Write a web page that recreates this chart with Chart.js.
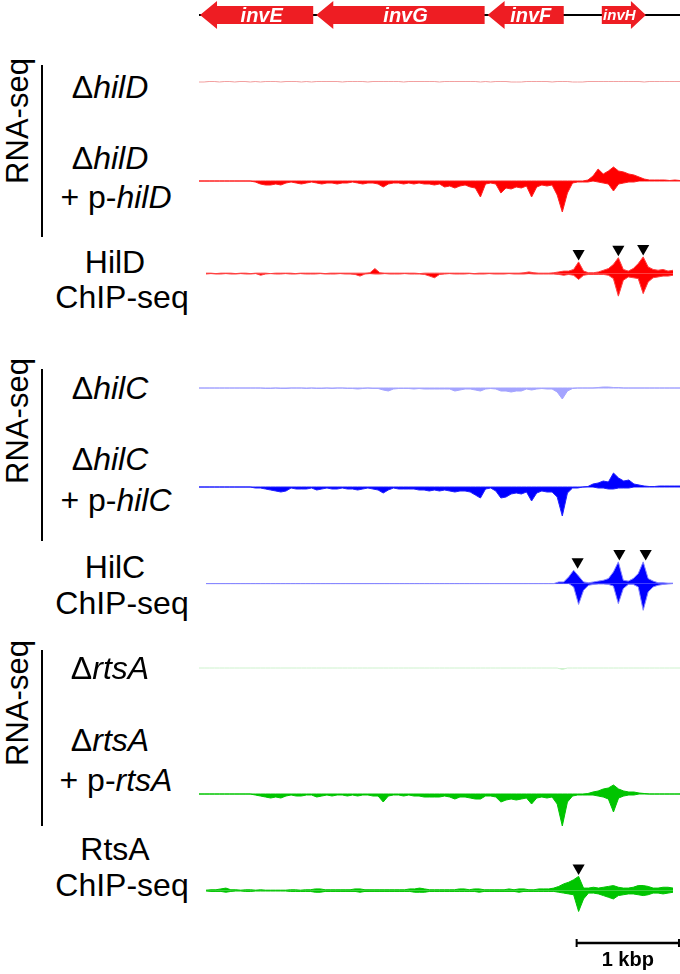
<!DOCTYPE html>
<html><head><meta charset="utf-8">
<script src="https://cdn.jsdelivr.net/npm/chart.js@4.4.1/dist/chart.umd.min.js"></script>
<style>
html,body{margin:0;padding:0;background:#fff;}
#fig{position:relative;width:680px;height:974px;overflow:hidden;font-family:'Liberation Sans',Arial,Helvetica,sans-serif;color:#000;}
.lab{position:absolute;transform:translate(-50%,-50%);font-size:32px;white-space:pre;line-height:1;}
.rot{position:absolute;transform:translate(-50%,-50%) rotate(-90deg);font-size:31px;white-space:nowrap;line-height:1;}
.vline{position:absolute;width:2px;background:#000;}
canvas{position:absolute;}
</style></head><body><div id="fig"></div>
<script>
// ---- genome positions (bp) ----
const positions = [0,50,100,150,200,250,300,350,400,450,500,550,600,650,700,750,800,850,900,950,
1000,1050,1100,1150,1200,1250,1300,1350,1400,1450,1500,1550,1600,1650,1700,1750,1800,1850,1900,1950,
2000,2050,2100,2150,2200,2250,2300,2350,2400,2450,2500,2550,2600,2650,2700,2750,2800,2850,2900,2950,
3000,3050,3100,3150,3200,3250,3300,3350,3400,3450,3500,3550,3600,3650,3700,3750,3800,3850,3900,3950,
4000,4050,4100,4150,4200,4250,4300,4350,4400,4450,4500,4550,4600,4650,4700];

// ---- genes ----
const geneNames  = ['invE','invG','invF','invH'];
const geneStarts = [10,1146,2820,3936];
const geneEnds   = [1116,2791,3564,4367];
const geneStrands= [-1,-1,-1,1];

// ---- HilD panel ----
const hilDDelta = [0,0,0.5,0.5,0,0.5,0.5,0,0.5,0.5, 0,0.5,0,0.5,0.5,0.5,0,0.5,0.5,0.5,
0,0.5,0,0.5,0.5,0.5,0.5,0.5,0,0.5, 0.5,0.5,0.5,0,0.5,0.5,0.5,0.5,0.5,0.5,
0,0.5,0.5,0.5,0.5,0.5,0.5,0,0.5,0.5, 0.5,0.5,0.5,0.5,0.5,0,0.5,0,0.5,0.5,
0.5,0,0,0,0.5,0.5,0.5,0.5,0.5,0, 0.5,0.5,0.5,0,0,0,0.5,0.5,0.5,0.5,
0.5,0.5,0.5,0.5,0.5,0.5,0.5,0,0.5,0.5, 0.5,0.5,0.5,0.5,0.5];
const hilDCompPos = [0,0,0,0,0,0,0,0,0,0, 0,0,0,0,0,0,0,0,0,0, 0,0,0,0,0,0,0,0,0,0,
0,0,0,0,0,0,0,0,0,0, 0,0,0,0,0,0,0,0,0,0, 0,0,0,0,0,0,0,0,0,0, 0,0,0,0,0,0,0,0,0,0,
0,0,0,0,0,0,1,5,12,7, 10,14,10,9,7,6,4,2,1,1, 1,1,0.5,1,0.5];
const hilDCompNeg = [0,0,0,0,0,0,0,0,0,0, 0,-1,-3,-4,-4,-3,-4,-2,-1,-2,
-3,-2,-1,-2,-3,-2,-2,-3,-2,-2, -1,-2,-3,-2,-2,-3,-6,-3,-2,-2,
-3,-2,-3,-2,-3,-3,-4,-3,-6,-5, -7,-5,-4,-6,-7,-16,-3,-2,-3,-12,
-7,-8,-6,-7,-5,-16,-6,-4,-5,-4, -14,-31,-12,-2,-1,-1,-1,0,-1,-2,
-3,-10,-3,-2,-1,-1,0,0,0,0, 0,0,0,0,0];
const hilDChipPos = [0.5,0.5,0,0.5,0.5,0.5,0,0.5,0.5,0, 0.5,0.5,0.5,0,0.5,0.5,0.5,0.5,0,0.5,
0.5,0.5,0.5,0.5,0,0.5,0.5,0.5,0.5,0.5, 0.5,0.5,0.5,1,6,1,0.5,0.5,0.5,0.5,
0.5,0.5,0.5,0,0.5,0.5,0.5,0.5,0.5,0.5, 0.5,0.5,0.5,0.5,0,0.5,0.5,0.5,0.5,0.5,
0.5,0.5,0.5,0.5,1,2,1,0.5,0.5,0.5, 1,2,3,3,5,14,3,1,1,2,
4,6,11,19,5,3,6,12,20,8, 5,4,5,3,4];
const hilDChipNeg = [-0.5,0,-0.5,-0.5,0,-0.5,-0.5,0,-0.5,-0.5, 0,-2,-0.5,0,-0.5,-0.5,0,-0.5,-0.5,0,
-0.5,-0.5,-0.5,0,-0.5,-0.5,-0.5,0,-0.5,-0.5, -1,-3,-0.5,0,-0.5,-0.5,0,-0.5,-0.5,-0.5,
0,-0.5,-0.5,-0.5,-1,-3,-5,-1,-0.5,0, -0.5,-0.5,-0.5,0,-0.5,-0.5,-0.5,0,-0.5,-0.5,
-0.5,0,-0.5,-0.5,-0.5,0,-0.5,-0.5,-0.5,-0.5, -0.5,-1,-2,-1,-2,-7,-2,-1,-1,-1,
-1,-2,-6,-27,-8,-4,-5,-6,-24,-10, -5,-4,-3,-3,-2];
const hilDSites = [3750,4150,4400];

// ---- HilC panel ----
const hilCDeltaPos = [0,0,0,0,0,0,0,0,0,0, 0,0,0,0,0,0,0,0,0,0, 0,0,0,0,0,0,0,0,0,0,
0,0,0,0,0,0,0,0,0,0, 0,0,0,0,0,0,0,0,0,0, 0,0,0,0,0,0,0,0,0,0, 0,0,0,0,0,0,0,0,0,0,
0,0,0,0,0,0,0,0,0.5,1, 1,0.5,0.5,0,0,0,0,0,0,0, 0,0,0,0,0];
const hilCDeltaNeg = [0,0,0,0,0,0,0,0,0,0, 0,0,0,-0.5,-0.5,0,-0.5,-0.5,0,0,
0,-0.5,0,-0.5,-0.5,0,-0.5,0,0,-0.5, -0.5,-1,-0.5,0,-0.5,-0.5,-2,-3,-1,-0.5,
-0.5,-0.5,-1,-0.5,-1,-1,-1,-1,-1,-1, -3,-2,-1,-1,-2,-3,-1,-0.5,-1,-3,
-3,-4,-3,-3,-1,-2,-1,-0.5,-1,-1, -4,-11,-3,-0.5,0,0,0,0,0,0,
0,0,0,0,0,0,0,0,0,0, 0,0,0,0,0];
const hilCCompPos = [0,0,0,0,0,0,0,0,0,0, 0,0,0,0,0,0,0,0,0,0, 0,0,0,0,0,0,0,0,0,0,
0,0,0,0,0,0,0,0,0,0, 0,0,0,0,0,0,0,0,0,0, 0,0,0,0,0,0,0,0,0,0, 0,0,0,0,0,0,0,0,0,0,
0,0,0,0,0,0,0.5,3,4,6, 5,14,9,6,7,3,2,1,0.5,0.5, 1,1,1,1,1];
const hilCCompNeg = [0,0,0,0,0,0,0,0,0,0, 0,-1,-1,-2,-3,-4,-5,-4,-1,-2,
-2,-2,-1,-3,-2,-1,-2,-2,-1,-2, -2,-3,-2,-1,-2,-3,-6,-3,-1,-2,
-2,-2,-2,-3,-3,-4,-3,-4,-3,-4, -5,-4,-4,-5,-8,-11,-2,-1,-4,-11,
-10,-7,-6,-7,-5,-14,-6,-4,-5,-5, -10,-29,-6,-1,-1,0,0,0,-1,-1,
-2,-2,-1,-1,-1,0,0,0,0,0, 0,0,0,0,0];
const hilCChipPos = [0,0,0,0,0,0,0,0,0,0, 0,0,0,0,0,0,0,0,0,0, 0,0,0,0,0,0,0,0,0,0,
0,0,0,0,0,0,0,0,0,0, 0,0,0,0,0,0,0,0,0,0, 0,0,0,0,0,0,0,0,0,0, 0,0,0,0,0,0,0,0,0,0,
0,2,2,8,16,9,2,1,2,3, 4,6,14,26,4,3,6,12,26,6, 3,1,1,0.5,0.5];
const hilCChipNeg = [0,0,0,0,0,0,0,0,0,0, 0,0,0,0,0,0,0,0,0,0, 0,0,0,0,0,0,0,0,0,0,
0,0,0,0,0,0,0,0,0,0, 0,0,0,0,0,0,0,0,0,0, 0,0,0,0,0,0,0,0,0,0, 0,0,0,0,0,0,0,0,0,0,
0,0,0,0,-4,-25,-8,-2,-1,-0.5, -0.5,-1,-3,-24,-6,-1,-1,-4,-32,-10, -4,-2,-1,-0.5,0];
const hilCSites = [3740,4160,4425];

// ---- RtsA panel ----
const rtsADeltaNeg = [0,0,0,0,0,0,0,0,0,0, 0,0,0,0,0,0,0,0,0,0, 0,0,0,0,0,0,0,0,0,0,
0,0,0,0,0,0,0,0,0,0, 0,0,0,0,0,0,0,0,0,0, 0,0,0,0,0,0,0,0,0,0, 0,0,0,0,0,0,0,0,0,0,
0,-1.5,0,0,0,0,0,0,0,0, 0,0,0,0,0,0,0,0,0,0, 0,0,0,0,0];
const rtsACompPos = [0,0,0,0,0,0,0,0,0,0, 0,0,0,0,0,0,0,0,0,0, 0,0,0,0,0,0,0,0,0,0,
0,0,0,0,0,0,0,0,0,0, 0,0,0,0,0,0,0,0,0,0, 0,0,0,0,0,0,0,0,0,0, 0,0,0,0,0,0,0,0,0,0,
0,0,0,0,0,0,0.5,2,3,5, 6,9,5,3,2,2,1,0.5,0,0, 0,0,0,0,0];
const rtsACompNeg = [0,0,0,0,0,0,0,0,0,0, 0,-1,-2,-3,-4,-3,-4,-2,-1,-2,
-2,-1,-1,-3,-2,-1,-2,-1,-1,-2, -1,-2,-1,-1,-2,-2,-8,-2,-1,-1,
-2,-1,-2,-2,-3,-3,-3,-3,-2,-3, -5,-3,-3,-4,-5,-5,-2,-2,-3,-8,
-6,-5,-6,-5,-4,-10,-4,-3,-4,-3, -10,-32,-8,-2,-1,-1,-1,-1,-2,-3,
-5,-18,-4,-2,-1,-1,0,0,0,0, 0,0,0,0,0];
const rtsAChipPos = [0.5,1,1,2,3,1,1,0.5,1,1, 0.5,1,0.5,0.5,0.5,0.5,0.5,1,1,0.5,
1,1,2,2,1,1,1,1,1,1, 2,2,1,1,1,1,1,1,1,1, 1,2,2,3,2,1,1,1,1,1,
1,2,2,1,2,2,1,1,1,1, 1,2,1,2,2,1,1,2,2,2, 3,5,8,10,13,17,3,3,4,3,
4,5,6,4,3,3,4,6,6,5, 3,3,4,4,3];
const rtsAChipNeg = [-0.5,-1,-1,-1,-2,-1,-0.5,-0.5,-1,-1, -0.5,-0.5,-0.5,-0.5,-0.5,-0.5,-0.5,-1,-1,-1,
-1,-1,-2,-2,-1,-1,-1,-1,-1,-1, -1,-2,-1,-1,-1,-1,-1,-1,-1,-1,
-1,-1,-2,-2,-2,-1,-1,-1,-1,-1, -1,-1,-1,-1,-1,-2,-1,-1,-1,-1,
-1,-1,-1,-2,-1,-1,-1,-1,-1,-1, -1,-2,-3,-4,-5,-25,-10,-3,-3,-4,
-6,-8,-10,-6,-5,-4,-4,-5,-6,-5, -3,-3,-4,-3,-2];
const rtsASites = [3750];

// ---- scale bar ----
const scaleBarStart = 3690, scaleBarEnd = 4690, scaleBarLabel = '1 kbp';

// ================= drawing =================
const fig = document.getElementById('fig');
const X_MIN = 0, X_MAX = 4700, LEFT = 199, WIDTH = 481;
const UP = 45, DOWN = 40;

function makeCanvas(top, height){
  const c = document.createElement('canvas');
  c.width = WIDTH; c.height = height;
  c.style.left = LEFT + 'px'; c.style.top = top + 'px';
  c.style.width = WIDTH + 'px'; c.style.height = height + 'px';
  fig.appendChild(c);
  return c;
}
function baseOptions(){
  return {
    responsive:false, animation:false, devicePixelRatio:1, events:[],
    layout:{padding:0},
    plugins:{legend:{display:false}, tooltip:{enabled:false}},
    scales:{
      x:{type:'linear', min:X_MIN, max:X_MAX, display:false},
      y:{min:-DOWN, max:UP, display:false}
    }
  };
}
function series(vals, color, lineColor){
  return {type:'line', data: positions.map((x,i)=>({x, y: vals[i]})), fill:'origin',
    backgroundColor: color, borderColor: lineColor || color, borderWidth:1,
    pointRadius:0, tension:0};
}
function peakNear(vals, site){
  let m = 0;
  positions.forEach((x,i)=>{ if (Math.abs(x - site) <= 75) m = Math.max(m, vals[i]); });
  return m;
}
function track(baseline, pos, neg, color, lineColor, sites){
  const c = makeCanvas(baseline - UP, UP + DOWN);
  const datasets = [];
  if (pos) datasets.push(series(pos, color, lineColor));
  if (neg) datasets.push(series(neg, color, lineColor));
  if (sites) datasets.push({type:'scatter', data: sites.map(s=>({x:s, y: peakNear(pos, s) + 10})),
    pointStyle:'triangle', pointRotation:180, pointRadius:7, pointBackgroundColor:'#000',
    pointBorderColor:'#000', pointBorderWidth:0, showLine:false});
  new Chart(c, {type:'line', data:{datasets}, options: baseOptions()});
}

// gene map
const genePlugin = {
  id:'genes',
  afterDraw(chart){
    const ctx = chart.ctx, xs = chart.scales.x, cy = 15;
    ctx.save();
    ctx.strokeStyle = '#000'; ctx.lineWidth = 2;
    ctx.beginPath(); ctx.moveTo(xs.getPixelForValue(X_MIN), cy); ctx.lineTo(xs.getPixelForValue(X_MAX), cy); ctx.stroke();
    geneNames.forEach((name, i)=>{
      const a = xs.getPixelForValue(geneStarts[i]), b = xs.getPixelForValue(geneEnds[i]);
      const small = (b - a) < 60;
      const head = small ? 15 : 17, bh = 9, hh = 14;
      ctx.fillStyle = '#ee1d23';
      ctx.beginPath();
      if (geneStrands[i] < 0){
        ctx.moveTo(a, cy); ctx.lineTo(a+head, cy-hh); ctx.lineTo(a+head, cy-bh); ctx.lineTo(b, cy-bh);
        ctx.lineTo(b, cy+bh); ctx.lineTo(a+head, cy+bh); ctx.lineTo(a+head, cy+hh);
      } else {
        ctx.moveTo(b, cy); ctx.lineTo(b-head, cy-hh); ctx.lineTo(b-head, cy-bh); ctx.lineTo(a, cy-bh);
        ctx.lineTo(a, cy+bh); ctx.lineTo(b-head, cy+bh); ctx.lineTo(b-head, cy+hh);
      }
      ctx.closePath(); ctx.fill();
      ctx.fillStyle = '#fff';
      ctx.font = 'italic bold ' + (small ? 15 : 20) + 'px "Liberation Sans", Arial, sans-serif';
      ctx.textAlign = 'center'; ctx.textBaseline = 'middle';
      const tx = (a + b)/2 - geneStrands[i]*head*0.3;
      ctx.fillText(name, tx, cy + 1);
    });
    ctx.restore();
  }
};
(function(){
  const c = makeCanvas(0, 32);
  const o = baseOptions(); o.scales.y = {min:0, max:1, display:false};
  new Chart(c, {type:'line', data:{datasets:[]}, options:o, plugins:[genePlugin]});
})();

// tracks
track(82,  hilDDelta, null, '#f2a0a0', '#f2a0a0');
track(181, hilDCompPos, hilDCompNeg, '#ff0000', '#ff2020');
track(274, hilDChipPos, hilDChipNeg, '#ff0000', '#ff4040', hilDSites);
track(388, hilCDeltaPos, hilCDeltaNeg, '#a4a4ff', '#a4a4ff');
track(487, hilCCompPos, hilCCompNeg, '#0000ff', '#2020ff');
track(584, hilCChipPos, hilCChipNeg, '#0000ff', '#8888ff', hilCSites);
track(668, null, rtsADeltaNeg, '#cdf2cd', '#cdf2cd');
track(794, rtsACompPos, rtsACompNeg, '#00c400', '#00c400');
track(891, rtsAChipPos, rtsAChipNeg, '#00c400', '#00c400', rtsASites);

// scale bar
const scalePlugin = {
  id:'scalebar',
  afterDraw(chart){
    const ctx = chart.ctx, xs = chart.scales.x, y = 18;
    const a = xs.getPixelForValue(scaleBarStart), b = xs.getPixelForValue(scaleBarEnd);
    ctx.save();
    ctx.strokeStyle = '#000'; ctx.lineWidth = 2.5;
    ctx.beginPath(); ctx.moveTo(a, y); ctx.lineTo(b, y); ctx.stroke();
    ctx.lineWidth = 2;
    ctx.beginPath(); ctx.moveTo(a, y-4); ctx.lineTo(a, y+4); ctx.moveTo(b, y-4); ctx.lineTo(b, y+4); ctx.stroke();
    ctx.fillStyle = '#000'; ctx.font = 'bold 20px "Liberation Sans", Arial, sans-serif';
    ctx.textAlign = 'center'; ctx.textBaseline = 'middle';
    ctx.fillText(scaleBarLabel, (a+b)/2, y + 17);
    ctx.restore();
  }
};
(function(){
  const c = makeCanvas(925, 49);
  const o = baseOptions(); o.scales.y = {min:0, max:1, display:false};
  new Chart(c, {type:'line', data:{datasets:[]}, options:o, plugins:[scalePlugin]});
})();

// labels (HTML text)
function lab(html, x, y, cls){
  const d = document.createElement('div');
  d.className = cls || 'lab'; d.innerHTML = html;
  d.style.left = x + 'px'; d.style.top = y + 'px';
  fig.appendChild(d);
}
function vline(x, y0, y1){
  const d = document.createElement('div'); d.className = 'vline';
  d.style.left = (x-1) + 'px'; d.style.top = y0 + 'px'; d.style.height = (y1-y0) + 'px';
  fig.appendChild(d);
}
const groups = [
  {g:'hilD', prot:'HilD', y:[87,158,197,262,297], rna:121, line:[65,237]},
  {g:'hilC', prot:'HilC', y:[388,459,500,567,603], rna:421, line:[369,541]},
  {g:'rtsA', prot:'RtsA', y:[668,740,780,849,885], rna:703, line:[650,826]}
];
groups.forEach(G=>{
  lab('\u0394<i>' + G.g + '</i>', 110, G.y[0]);
  lab('\u0394<i>' + G.g + '</i>', 110, G.y[1]);
  lab('+ p-<i>' + G.g + '</i>', 116, G.y[2]);
  lab(G.prot, 115, G.y[3]);
  lab('ChIP-seq', 122, G.y[4]);
  lab('RNA-seq', 17, G.rna, 'rot');
  vline(42, G.line[0], G.line[1]);
});
</script>
</body></html>
